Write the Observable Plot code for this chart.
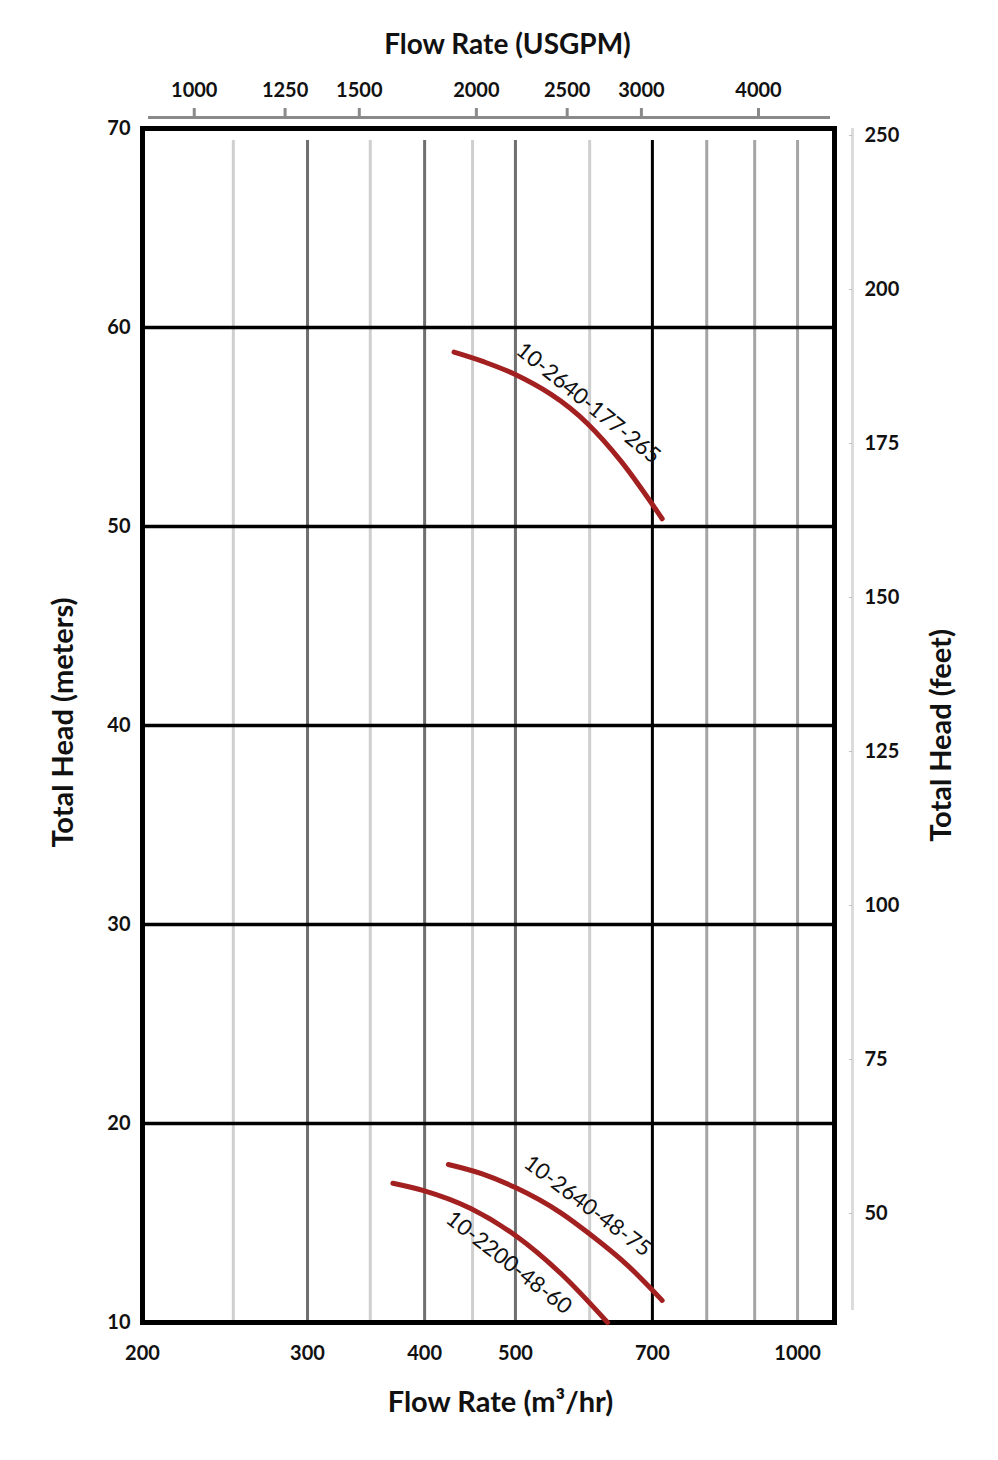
<!DOCTYPE html>
<html>
<head>
<meta charset="utf-8">
<script src="https://cdn.jsdelivr.net/npm/d3@7"></script>
<script src="https://cdn.jsdelivr.net/npm/@observablehq/plot@0.6"></script>
<style>
  html, body { margin: 0; padding: 0; background: #fff; }
  #chart svg { display: block; }
</style>
</head>
<body>
<div id="chart"></div>
<script>
// ---------- data ----------
const xTicks = [200, 300, 400, 500, 700, 1000];           // m3/hr (bottom)
const yTicks = [10, 20, 30, 40, 50, 60, 70];                // meters (left)
const usgpmTicks = [1000, 1250, 1500, 2000, 2500, 3000, 4000]; // top axis
const feetTickPos = [225, 200, 175, 150, 125, 100, 75, 50];    // right axis positions (ft)
const feetTickLabels = ["250", "200", "175", "150", "125", "100", "75", "50"]; // as printed
const gridLight = [250, 350, 450, 600];
const gridMid = [800, 900, 1000];
const gridDark = [300, 400, 500];
const gridBlack = [700];
const gridH = [20, 30, 40, 50, 60];

const curveModels = ["10-2640-177-265", "10-2640-48-75", "10-2200-48-60"];
const curveFlow = [
  [430, 463, 498, 597, 647, 717],
  [424, 460, 500, 559, 601, 659, 717],
  [370, 399, 448, 500, 559, 627]
];
const curveHead = [
  [58.76, 58.27, 57.67, 55.16, 53.32, 50.39],
  [17.94, 17.48, 16.78, 15.51, 14.42, 12.86, 11.11],
  [17.0, 16.63, 15.73, 14.37, 12.46, 10.0]
];
const labelFlow = [598, 597, 492];
const labelHead = [56.2, 15.85, 13.0];
const labelAngle = [39, 37, 38];

const GPM_TO_M3H = 0.22712;
const FT_PER_M_RIGHT = 3.23; // scale printed on the right axis

// ---------- build tables ----------
const curves = curveModels.flatMap((m, k) =>
  curveFlow[k].map((q, i) => ({model: m, flow: q, head: curveHead[k][i]})));
const curveLabels = curveModels.map((m, k) =>
  ({model: m, flow: labelFlow[k], head: labelHead[k], angle: labelAngle[k]}));
const feetTicks = feetTickPos.map((f, i) => ({m: f / FT_PER_M_RIGHT, label: feetTickLabels[i]}));

const FONT = "Lato, 'Open Sans', sans-serif";
const XMAX = 1095;

const chart = Plot.plot({
  width: 998,
  height: 1460,
  marginLeft: 142,
  marginRight: 164,
  marginTop: 128,
  marginBottom: 138,
  style: {fontFamily: FONT, background: "#fff", color: "#111"},
  x: {type: "log", domain: [200, XMAX], axis: null},
  y: {type: "linear", domain: [10, 70], axis: null},
  marks: [
    // vertical grid
    Plot.ruleX(gridLight, {stroke: "#cfcfcf", strokeWidth: 3, insetTop: 12}),
    Plot.ruleX(gridMid, {stroke: "#a5a5a5", strokeWidth: 3, insetTop: 12}),
    Plot.ruleX(gridDark, {stroke: "#6f6f6f", strokeWidth: 3, insetTop: 12}),
    Plot.ruleX(gridBlack, {stroke: "#000", strokeWidth: 3, insetTop: 12}),
    // horizontal grid
    Plot.ruleY(gridH, {stroke: "#000", strokeWidth: 3.5}),
    Plot.frame({stroke: "#000", strokeWidth: 5}),
    // curves
    Plot.line(curves, {x: "flow", y: "head", z: "model", stroke: "#a32020", strokeWidth: 5, curve: "monotone-x"}),
    Plot.text(curveLabels, {x: "flow", y: "head", text: "model", rotate: "angle", fontSize: 22, fill: "#111"}),
    // left axis
    Plot.axisY({ticks: yTicks, tickSize: 0, tickPadding: 12, fontSize: 20, fontWeight: "bold", label: null}),
    // bottom axis
    Plot.axisX({ticks: xTicks, tickSize: 0, tickPadding: 23, fontSize: 20, fontWeight: "bold", label: null, tickFormat: d => String(d)}),
    // top axis (USGPM)
    Plot.ruleY([70], {stroke: "#8a8a8a", strokeWidth: 3, dy: -11, insetLeft: 6, insetRight: 4}),
    Plot.axisX({anchor: "top", ticks: usgpmTicks.map(g => g * GPM_TO_M3H), tickFormat: d => String(Math.round(d / GPM_TO_M3H)),
      dy: -11, tickSize: 10, tickPadding: 11, stroke: "#8a8a8a", fill: "#111", strokeWidth: 3,
      fontSize: 20, fontWeight: "bold", label: null}),
    // right axis (feet)
    Plot.ruleX([XMAX], {dx: 18, stroke: "#dcdcdc", strokeWidth: 3, insetBottom: 12}),
    Plot.text(feetTicks, {x: () => XMAX, y: "m", text: "label", dx: 30, textAnchor: "start", fontSize: 20, fontWeight: "bold"}),
    Plot.text(feetTicks, {x: () => XMAX, y: "m", text: () => "-", dx: 16, textAnchor: "middle", fontSize: 12, fill: "#bbb"}),
    // axis titles
    Plot.text(["Flow Rate (USGPM)"], {frameAnchor: "top", dx: 19, dy: -94, fontSize: 28, fontWeight: "bold"}),
    Plot.text(["Flow Rate (m³/hr)"], {frameAnchor: "bottom", dx: 12, dy: 89, fontSize: 29, fontWeight: "bold"}),
    Plot.text(["Total Head (meters)"], {frameAnchor: "left", textAnchor: "middle", dx: -79, dy: -3, rotate: -90, fontSize: 29, fontWeight: "bold"}),
    Plot.text(["Total Head (feet)"], {frameAnchor: "right", textAnchor: "middle", dx: 107, dy: 10, rotate: -90, fontSize: 29, fontWeight: "bold"})
  ]
});
document.getElementById("chart").appendChild(chart);
</script>
</body>
</html>
